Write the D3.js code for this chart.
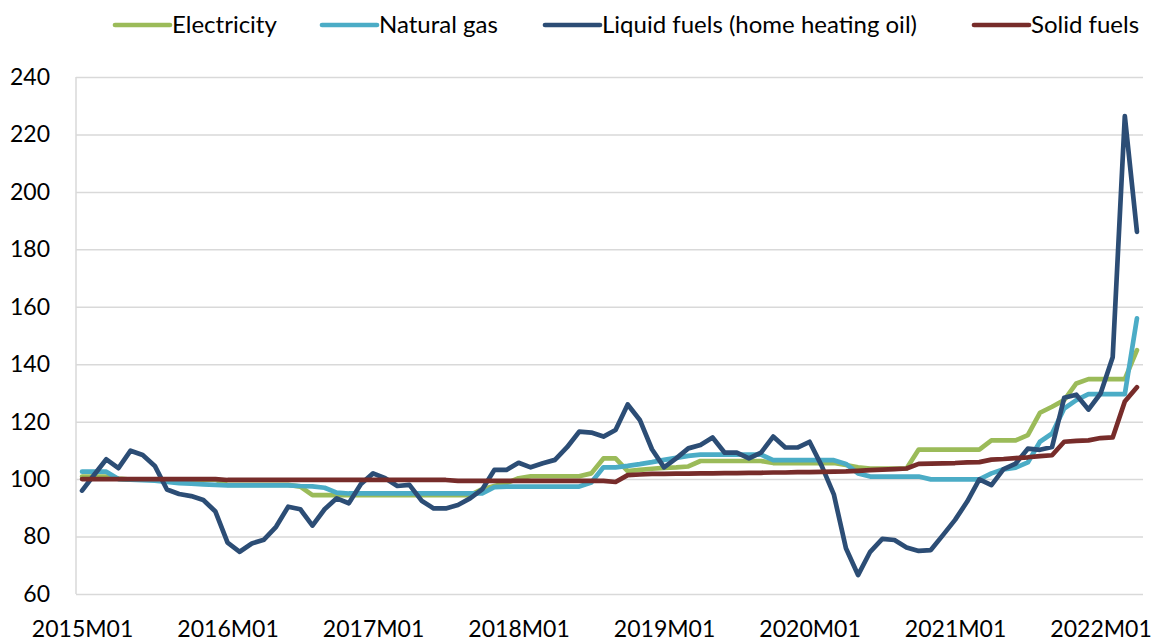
<!DOCTYPE html>
<html>
<head>
<meta charset="utf-8">
<script src="https://cdn.jsdelivr.net/npm/d3@7"></script>
<style>
  body { margin: 0; background: #fff; }
  svg text { font-family: Lato, "Open Sans", sans-serif; fill: #000; }
</style>
</head>
<body>
<div id="chart"></div>
<script>
// Données (indice 2015M01 = 100), 2015M01 .. 2022M04
const startYear = 2015;
const nMonths = 88;

const electricity = [
  100.9, 100.9, 100.9, 100.2, 99.8, 99.8, 99.8, 99.8, 99.8, 99.8, 99.8, 99.8,
  98.0, 98.0, 98.0, 98.0, 98.0, 98.0, 97.4, 94.4, 94.4, 94.4, 94.4, 94.4,
  94.4, 94.4, 94.4, 94.4, 94.4, 94.4, 94.4, 94.4, 94.4, 96.5, 97.6, 98.6,
  100.3, 101.0, 101.0, 101.0, 101.0, 101.0, 102.0, 107.2, 107.2, 102.8, 103.2, 103.6,
  103.9, 104.1, 104.4, 106.3, 106.3, 106.3, 106.3, 106.3, 106.3, 105.6, 105.6, 105.6,
  105.6, 105.6, 105.6, 104.9, 104.1, 103.7, 103.7, 103.7, 103.7, 110.3, 110.3, 110.3,
  110.3, 110.3, 110.3, 113.5, 113.5, 113.5, 115.3, 123.1, 125.2, 127.5, 133.3, 134.8,
  134.8, 134.8, 134.8, 144.9
];

const naturalGas = [
  102.6, 102.6, 102.6, 100.0, 99.8, 99.6, 99.5, 99.0, 98.6, 98.4, 98.2, 98.0,
  97.8, 97.8, 97.8, 97.8, 97.8, 97.8, 97.6, 97.5, 97.0, 95.3, 95.0, 95.0,
  95.0, 95.0, 95.0, 95.0, 95.0, 95.0, 95.0, 95.0, 95.0, 95.0, 97.2, 97.4,
  97.4, 97.4, 97.4, 97.4, 97.4, 97.4, 98.8, 104.1, 104.1, 104.6, 105.2, 105.9,
  106.7, 107.4, 108.1, 108.5, 108.5, 108.5, 108.5, 108.5, 108.5, 106.6, 106.6, 106.6,
  106.6, 106.6, 106.6, 105.3, 102.0, 100.9, 100.9, 100.9, 100.9, 100.9, 99.9, 99.9,
  99.9, 99.9, 99.9, 102.0, 103.4, 104.0, 105.8, 113.0, 115.9, 124.6, 127.5, 129.6,
  129.6, 129.6, 129.6, 156.0
];

const liquidFuels = [
  96.0, 101.5, 106.9, 103.8, 109.9, 108.4, 104.6, 96.4, 94.8, 94.1, 92.7, 88.7,
  77.9, 74.7, 77.6, 78.9, 83.4, 90.4, 89.5, 83.8, 89.5, 93.3, 91.6, 98.3,
  102.0, 100.3, 97.6, 98.0, 92.5, 89.8, 89.8, 91.0, 93.3, 96.4, 103.2, 103.2,
  105.7, 104.1, 105.5, 106.7, 111.1, 116.5, 116.2, 114.8, 117.1, 126.0, 120.6, 110.4,
  104.1, 107.2, 110.7, 111.9, 114.5, 109.2, 109.2, 107.2, 109.2, 114.8, 111.0, 111.0,
  113.0, 104.6, 94.7, 75.9, 66.6, 74.7, 79.2, 78.8, 76.2, 75.0, 75.3, 80.5,
  85.8, 92.2, 99.9, 97.9, 103.5, 105.4, 110.6, 110.2, 111.2, 128.3, 129.4, 124.2,
  129.8, 142.4, 226.4, 186.1
];

const solidFuels = [
  100.0, 100.0, 100.0, 100.0, 100.0, 100.0, 100.0, 100.0, 100.0, 100.0, 100.0, 100.0,
  99.7, 99.7, 99.7, 99.7, 99.7, 99.7, 99.7, 99.7, 99.7, 99.7, 99.7, 99.7,
  99.7, 99.7, 99.7, 99.7, 99.7, 99.7, 99.7, 99.4, 99.4, 99.4, 99.4, 99.4,
  99.4, 99.4, 99.4, 99.4, 99.4, 99.4, 99.4, 99.4, 99.0, 101.4, 101.6, 101.8,
  101.8, 101.9, 101.9, 102.0, 102.0, 102.1, 102.1, 102.2, 102.2, 102.3, 102.3, 102.4,
  102.4, 102.5, 102.6, 102.7, 102.9, 103.1, 103.3, 103.5, 103.7, 105.3, 105.4, 105.5,
  105.6, 105.8, 105.9, 106.8, 107.0, 107.3, 107.6, 108.0, 108.3, 113.0, 113.3, 113.5,
  114.3, 114.5, 127.0, 132.0
];

const xTickLabels = ["2015M01", "2016M01", "2017M01", "2018M01", "2019M01", "2020M01", "2021M01", "2022M01"];
const yTicks = [60, 80, 100, 120, 140, 160, 180, 200, 220, 240];

// Catégories mensuelles
const months = [];
for (let i = 0; i < nMonths; i++) {
  const y = startYear + Math.floor(i / 12);
  const m = (i % 12) + 1;
  months.push(y + "M" + (m < 10 ? "0" + m : m));
}

const series = [
  { name: "Electricity", values: electricity, color: "#9BBB59" },
  { name: "Natural gas", values: naturalGas, color: "#4BACC6" },
  { name: "Liquid fuels (home heating oil)", values: liquidFuels, color: "#2C4D75" },
  { name: "Solid fuels", values: solidFuels, color: "#772C2A" }
];

const width = 1157;
const height = 641;
const margin = { top: 77, right: 14, bottom: 47, left: 76 };

const svg = d3.select("#chart")
  .append("svg")
  .attr("width", width)
  .attr("height", height);

const x = d3.scalePoint()
  .domain(months)
  .range([margin.left, width - margin.right])
  .padding(0.5);

const y = d3.scaleLinear()
  .domain([60, 240])
  .range([height - margin.bottom, margin.top]);

// Grille horizontale
svg.append("g")
  .attr("transform", `translate(${margin.left},0)`)
  .call(d3.axisLeft(y).tickValues(yTicks).tickSize(-(width - margin.right - margin.left)).tickFormat(""))
  .call(g => g.select(".domain").remove())
  .call(g => g.selectAll("line").attr("stroke", "#d9d9d9").attr("stroke-width", 1.5));

// Axe vertical (ligne grise)
svg.append("line")
  .attr("x1", margin.left).attr("x2", margin.left)
  .attr("y1", y(240)).attr("y2", y(60))
  .attr("stroke", "#d9d9d9").attr("stroke-width", 1.5);

// Étiquettes de l'axe Y
svg.append("g")
  .attr("transform", `translate(${margin.left - 26},0)`)
  .call(d3.axisLeft(y).tickValues(yTicks).tickSize(0))
  .call(g => g.select(".domain").remove())
  .call(g => g.selectAll("text").attr("x", 0).style("font-size", "23px").style("font-family", "Lato, sans-serif").attr("fill", "#000"));

// Étiquettes de l'axe X
svg.append("g")
  .attr("transform", `translate(0,${y(60)})`)
  .call(d3.axisBottom(x).tickValues(xTickLabels).tickSize(0))
  .call(g => g.select(".domain").remove())
  .call(g => g.selectAll("text").attr("dy", "0").attr("y", 43).style("font-size", "23px").style("font-family", "Lato, sans-serif").attr("fill", "#000"));

// Lignes
const line = d3.line()
  .x((d, i) => x(months[i]))
  .y(d => y(d));

series.forEach(s => {
  svg.append("path")
    .datum(s.values)
    .attr("d", line)
    .attr("fill", "none")
    .attr("stroke", s.color)
    .attr("stroke-width", 4.7)
    .attr("stroke-linejoin", "round")
    .attr("stroke-linecap", "round");
});

// Légende
const legendPos = [115, 322, 545, 974];
const legend = svg.append("g");
series.forEach((s, i) => {
  const g = legend.append("g").attr("transform", `translate(${legendPos[i]},25)`);
  g.append("line")
    .attr("x1", 0).attr("x2", 55)
    .attr("stroke", s.color)
    .attr("stroke-width", 4.7)
    .attr("stroke-linecap", "round");
  g.append("text")
    .attr("x", 57)
    .attr("dy", "0.35em")
    .style("font-size", "24px")
    .text(s.name);
});
</script>
</body>
</html>
